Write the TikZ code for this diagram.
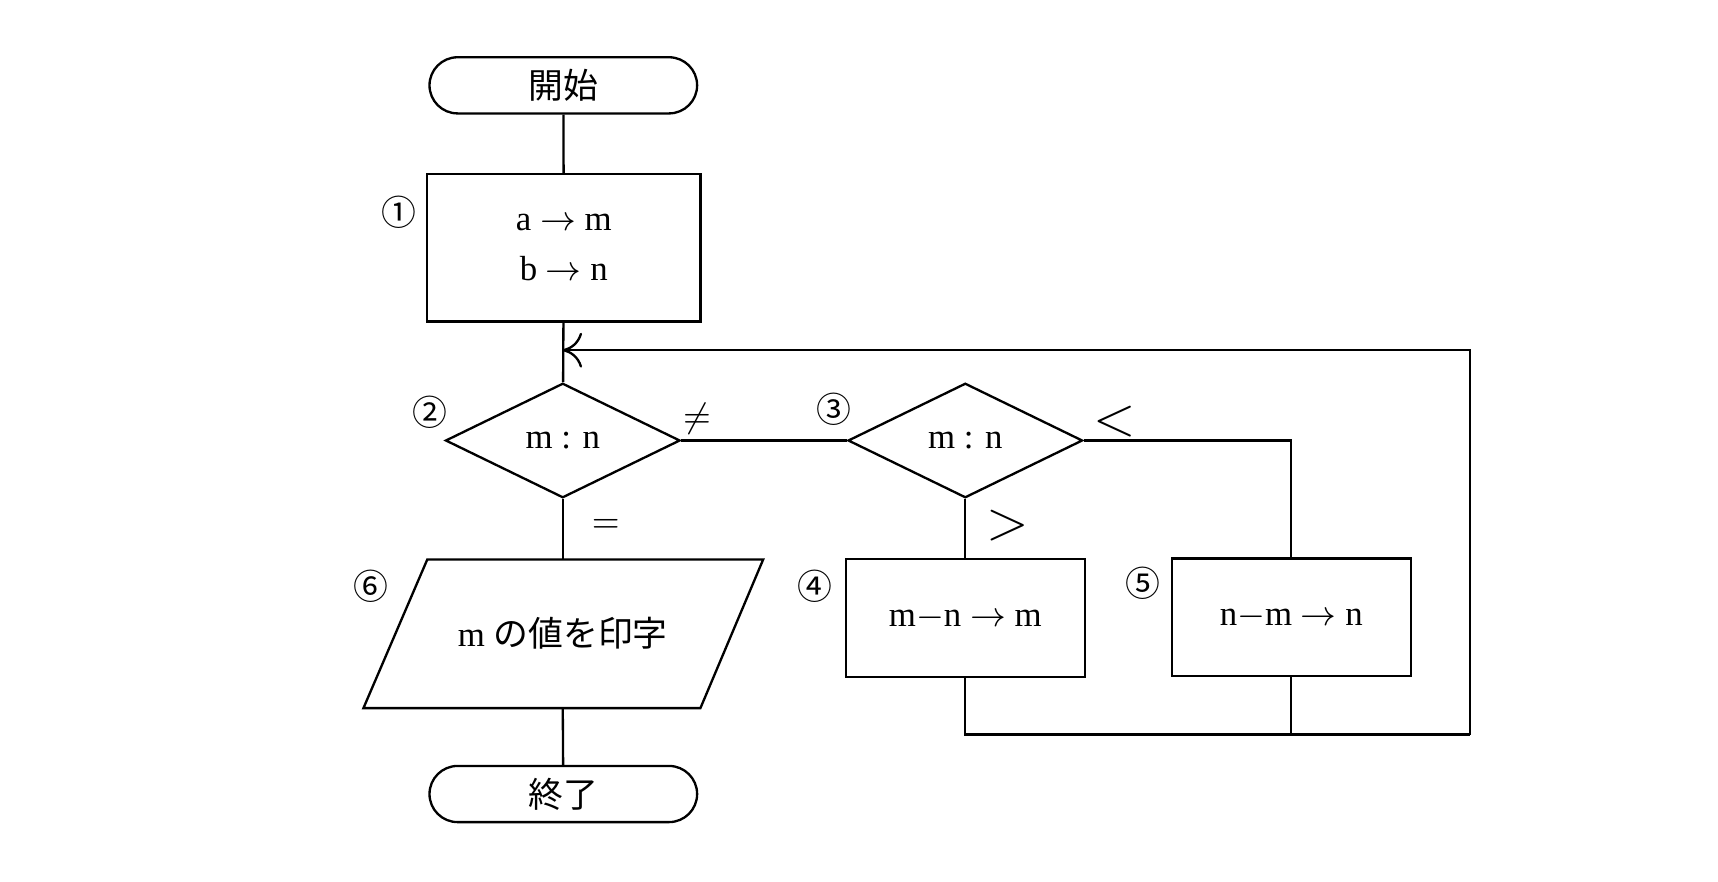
\documentclass[tikz,border=0pt]{standalone}
\usepackage{fontspec}
\setmainfont{Liberation Serif}
\newfontfamily\cjk{Noto Sans CJK JP}
\usetikzlibrary{shapes.geometric,shapes.misc,positioning,arrows.meta}
\tikzset{
  term/.style={draw,rounded rectangle,minimum width=2.43cm,minimum height=0.51cm,inner sep=0pt},
  proc/.style={draw,rectangle,inner sep=0pt},
  dec/.style={draw,diamond,aspect=2.05,minimum width=2.13cm,minimum height=1.04cm,inner sep=0pt},
  lbl/.style={font=\cjk\fontsize{9}{11}\selectfont}
}
\begin{document}
\begin{tikzpicture}[line width=0.6pt,font=\fontsize{9}{11}\selectfont]
\useasboundingbox (0,0) rectangle (15.6,8.0);
%\draw [lightgray](0,0) grid (15,8);
\node [term] (start) at (5.115,7.225){\cjk 開始};
\node [proc,minimum width=2.48cm,minimum height=1.34cm,align=center] (init) at (5.12,5.75){a $\rightarrow$ m\\[2pt]b $\rightarrow$ n};
\node [dec] (cmp1) at (5.11,4.0){m : n};
\node [dec] (cmp2) at (8.765,4.0){m : n};
\node (prnt) at (5.11,2.25){m {\cjk の値を印字}};
\node [proc,minimum width=2.17cm,minimum height=1.07cm] (sub1) at (8.765,2.39){m$-$n $\rightarrow$ m};
\node [proc,minimum width=2.17cm,minimum height=1.07cm] (sub2) at (11.725,2.395){n$-$m $\rightarrow$ n};
\node [term] (stop) at (5.115,0.79){\cjk 終了};

\draw (3.88,2.92) -- (6.93,2.92) -- (6.36,1.57) -- (3.30,1.57) -- cycle;
\coordinate (prtop) at (5.11,2.92);
\coordinate (prbot) at (5.11,1.57);

\coordinate (back) at (5.11,4.82);
\coordinate (loopr) at (13.35,4.82);
\coordinate (loopb) at (13.35,1.33);
\coordinate (joina) at (8.765,1.33);
\coordinate (joinb) at (11.725,1.33);
\coordinate (lt) at (11.725,4.0);

\draw (start) -- (init);
\draw (init) -- (cmp1);
\draw (cmp1) -- (prtop);
\draw (prbot) -- (stop);
\draw (cmp1) -- (cmp2);
\draw (cmp2) -- (sub1);
\draw (cmp2.east) -- (lt) -- (sub2);
\draw (sub1) -- (joina) -- (loopb);
\draw (sub2) -- (joinb);
\draw [-{To[length=5pt,width=9pt]}] (loopb) -- (loopr) -- (back);

\node [lbl] (n1) at (3.62,6.07){①};
\node [lbl] (n2) at (3.90,4.26){②};
\node [lbl] (n3) at (7.57,4.28){③};
\node [lbl] (n4) at (7.40,2.68){④};
\node [lbl] (n5) at (10.38,2.70){⑤};
\node [lbl] (n6) at (3.37,2.68){⑥};
\node (ne) at (6.33,4.20){$\neq$};
\node (eq) at (5.50,3.22){$=$};
\node (lt1) at (10.12,4.17){\Large $<$};
\node (gt1) at (9.15,3.23){\Large $>$};
\end{tikzpicture}
\end{document}
